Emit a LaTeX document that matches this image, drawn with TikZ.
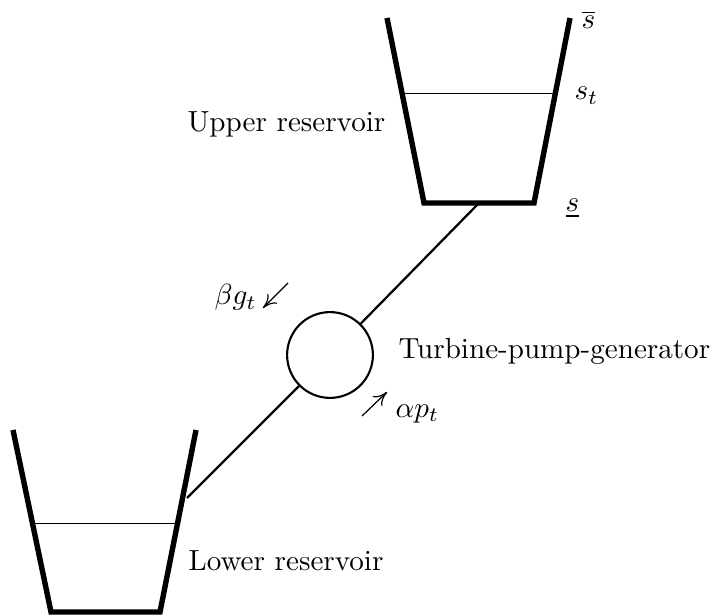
\documentclass[tikz,border=0pt]{standalone}
\usepackage{amsmath, amsfonts, amssymb}
\usepackage{xcolor}
\usepackage{tikz}
\usetikzlibrary{calc, arrows.meta, positioning}

\begin{document}
\begin{tikzpicture}[
    x=0.3333pt, y=-0.3333pt,
    wall/.style={draw=black, line width=1.8pt},
    level/.style={draw=black, line width=0.3pt},
    pipe/.style={draw=black, line width=0.75pt},
    flow/.style={draw=black, line width=0.4pt, -{To[length=1.6mm, width=1.6mm]}},
    lbl/.style={inner sep=0pt, anchor=base west, scale=0.97}
]
    \useasboundingbox (0,0) rectangle (712,615);

    % upper reservoir
    \coordinate (utl) at (387,18);
    \coordinate (ubl) at (424,203);
    \coordinate (ubr) at (534,203);
    \coordinate (utr) at (570,18);
    \coordinate (ubm) at (479,203);
    \coordinate (ull) at (405,93);
    \coordinate (ulr) at (554,93);
    \draw [wall] (utl) -- (ubl) -- (ubr) -- (utr);
    \draw [level] (ull) -- (ulr);

    % lower reservoir
    \coordinate (ltl) at (13,430);
    \coordinate (lbl) at (51,612);
    \coordinate (lbr) at (160,612);
    \coordinate (ltr) at (196,430);
    \coordinate (lll) at (34,523);
    \coordinate (llr) at (176,523);
    \coordinate (lin) at (187,498);
    \draw [wall] (ltl) -- (lbl) -- (lbr) -- (ltr);
    \draw [level] (lll) -- (llr);

    % turbine
    \node [circle, draw=black, line width=0.7pt, minimum size=28.6pt, inner sep=0pt] (tpg) at (330,355) {};
    \draw [pipe] (ubm) -- (tpg);
    \draw [pipe] (tpg) -- (lin);

    % flows
    \coordinate (ga) at (288,283);
    \coordinate (gb) at (263,308);
    \coordinate (pa) at (362,416);
    \coordinate (pb) at (387,392);
    \draw [flow] (ga) -- (gb);
    \draw [flow] (pa) -- (pb);

    \node [lbl] (supper) at (581,29) {$\overline{s}$};
    \node [lbl] (st) at (574,100) {$s_t$};
    \node [lbl] (slower) at (565,212) {$\underline{s}$};
    \node [lbl] (upper) at (187,132) {Upper reservoir};
    \node [lbl] (turbine) at (398,359) {Turbine-pump-generator};
    \node [lbl] (lower) at (188,570) {Lower reservoir};
    \node [lbl] (bg) at (214,305) {$\beta g_t$};
    \node [lbl] (ap) at (395,417) {$\alpha p_t$};
\end{tikzpicture}
\end{document}
